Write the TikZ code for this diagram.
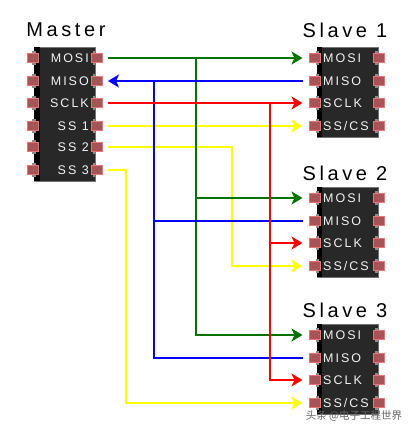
\documentclass[tikz,border=0pt]{standalone}
\usepackage{fontspec}
\setmainfont{Liberation Sans}
\newfontfamily\titlefont[LetterSpace=18]{Liberation Sans}
\newfontfamily\pinfont[LetterSpace=16]{Liberation Sans}
\newfontfamily\cjk{Noto Sans CJK SC}
\usepackage{xcolor}
\definecolor{chipbody}{RGB}{40,40,40}
\definecolor{pinfill}{RGB}{165,85,88}
\definecolor{pinglow}{RGB}{235,115,115}
\definecolor{wiregreen}{RGB}{0,115,0}
\definecolor{wireblue}{RGB}{0,0,255}
\definecolor{wirered}{RGB}{255,0,0}
\definecolor{wireyellow}{RGB}{255,255,0}
\usetikzlibrary{arrows.meta,positioning,calc}
\tikzset{
  chip/.style={fill=chipbody,draw=black!55,line width=0.6pt,minimum width=61pt,inner sep=0pt,anchor=north west},
  pin/.style={fill=pinfill,draw=pinglow,line width=1pt,minimum width=11pt,minimum height=8.5pt,inner sep=0pt},
  title/.style={font=\titlefont\fontsize{20}{20}\selectfont,text=black,inner sep=0pt},
  pinlabel/.style={font=\pinfont\fontsize{12.5}{13}\selectfont,text=black!5,inner sep=0pt},
  wire/.style={line width=2.4pt},
  tip/.style={-{Stealth[length=11pt,width=13pt,inset=3pt]}},
  toslave/.style={shorten >=6pt},
  frommaster/.style={shorten <=5pt}
}
\begin{document}
\begin{tikzpicture}[x=1pt,y=-1pt]
  \useasboundingbox (0,0) rectangle (411,430);
  \fill[white] (0,0) rectangle (411,430);

  % Master
  \node[title] (mastertitle) at (66,30) {Master};
  \node[chip,minimum height=134pt] (masterchip) at (34,47) {};
  \fill[black] (34,47) rectangle (40,181);
  \foreach \name/\ypos/\txt in {mosi/58/MOSI,miso/81/MISO,sclk/103/SCLK,ssa/126/SS 1,ssb/147/SS 2,ssc/170/SS 3} {
    \fill[black!45] (32,\ypos-7) rectangle (36,\ypos+7);
    \fill[black!45] (93,\ypos-7) rectangle (95,\ypos+7);
    \node[pin] (master\name L) at (32.5,\ypos) {};
    \node[pin] (master\name) at (97,\ypos) {};
    \node[pinlabel,anchor=east] (master\name text) at (89,\ypos) {\txt};
  }

  % Slaves
  \foreach \num/\ytop/\ylabel in {1/47/30,2/187/173,3/324/310} {
    \node[title] (slave\num title) at (345,\ylabel) {Slave \num};
    \node[chip,minimum height=90pt] (slave\num chip) at (317,\ytop) {};
    \fill[black] (317,\ytop) rectangle (322,\ytop+90);
    \foreach \name/\dy/\txt in {mosi/11/MOSI,miso/34/MISO,sclk/56/SCLK,ss/79/{SS/CS}} {
      \fill[black!45] (316,\ytop+\dy-7) rectangle (319,\ytop+\dy+7);
      \fill[black!45] (375,\ytop+\dy-7) rectangle (378,\ytop+\dy+7);
      \node[pin] (slave\num\name) at (314.5,\ytop+\dy) {};
      \node[pin] (slave\num\name R) at (378.5,\ytop+\dy) {};
      \node[pinlabel,anchor=west] (slave\num\name text) at (323,\ytop+\dy) {\txt};
    }
  }

  % Junctions
  \coordinate (greenjoin) at (196,58);
  \coordinate (bluejoin) at (154,81);
  \coordinate (redjoin) at (270,103);
  \coordinate (yellowbend) at (232,147);
  \coordinate (yellowdrop) at (126,170);

  % SS lines
  \draw[wire,wireyellow,tip,toslave,frommaster] (masterssa) -- (slave1ss);
  \draw[wire,wireyellow,tip,toslave,frommaster] (masterssb) -| (yellowbend) |- (slave2ss);
  \draw[wire,wireyellow,tip,toslave,frommaster] (masterssc) -| (yellowdrop) |- (slave3ss);

  % MOSI
  \draw[wire,wiregreen,tip,toslave,frommaster] (mastermosi) -- (slave1mosi);
  \draw[wire,wiregreen,tip,toslave] (greenjoin) |- (slave2mosi);
  \draw[wire,wiregreen,tip,toslave] (greenjoin) |- (slave3mosi);

  % MISO
  \draw[wire,wireblue,{Stealth[length=11pt,width=13pt,inset=3pt]}-,shorten <=5pt,toslave] (mastermiso) -- (slave1miso);
  \draw[wire,wireblue,toslave] (bluejoin) |- (slave2miso);
  \draw[wire,wireblue,toslave] (bluejoin) |- (slave3miso);

  % SCLK
  \draw[wire,wirered,tip,toslave,frommaster] (mastersclk) -- (slave1sclk);
  \draw[wire,wirered,tip,toslave] (redjoin) |- (slave2sclk);
  \draw[wire,wirered,tip,toslave] (redjoin) |- (slave3sclk);

  % Watermark
  \node[font=\cjk\fontsize{10.5}{11}\selectfont,text=black!60,inner sep=0pt] (watermark) at (354,416) {头条 @电子工程世界};
\end{tikzpicture}
\end{document}
